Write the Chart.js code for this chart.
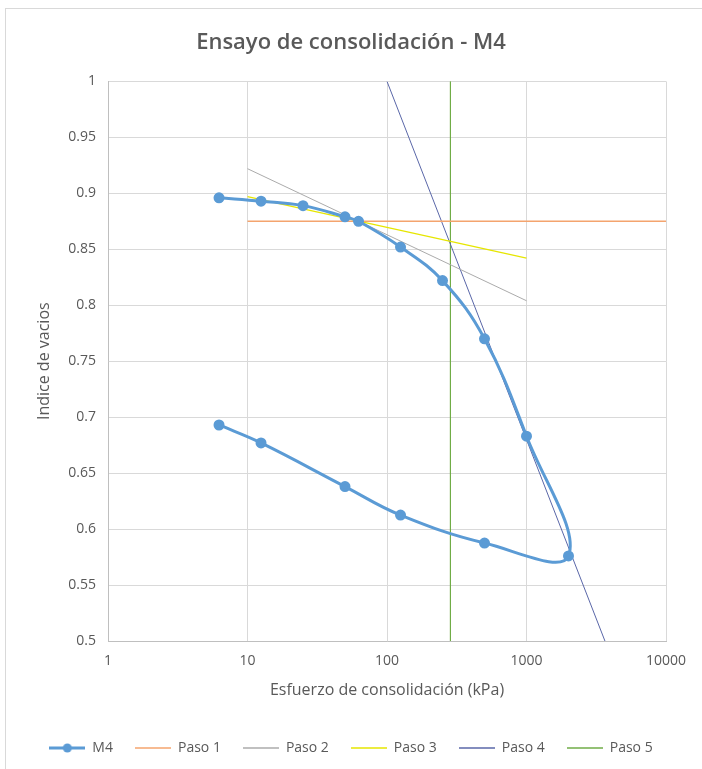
<!DOCTYPE html>
<html><head><meta charset="utf-8">
<script src="https://cdn.jsdelivr.net/npm/chart.js@4.4.1/dist/chart.umd.min.js"></script>
<style>html,body{margin:0;padding:0;background:#fff;}#wrap{width:702px;height:769px;position:relative;}</style>
</head><body><div id="wrap"><canvas id="c" width="702" height="769"></canvas></div>
<script>
const titleText = 'Ensayo de consolidación - M4';
const xTitle = 'Esfuerzo de consolidación (kPa)';
const yTitle = 'Indice de vacios';
const xTicks = [1, 10, 100, 1000, 10000];
const yTicks = [0.5, 0.55, 0.6, 0.65, 0.7, 0.75, 0.8, 0.85, 0.9, 0.95, 1];
const m4X = [6.25, 12.5, 25, 50, 62.5, 125, 250, 500, 1000, 2000, 500, 125, 50, 12.5, 6.25];
const m4Y = [0.896, 0.893, 0.889, 0.879, 0.875, 0.852, 0.822, 0.770, 0.683, 0.576, 0.5875, 0.6125, 0.638, 0.677, 0.693];
const paso1X = [10, 10000], paso1Y = [0.875, 0.875];
const paso2X = [10, 1000], paso2Y = [0.922, 0.804];
const paso3X = [10, 1000], paso3Y = [0.897, 0.842];
const paso4X = [100, 3650], paso4Y = [1.0, 0.5];
const paso5X = [285, 285], paso5Y = [1.0, 0.5];

const FONT = "'Open Sans', sans-serif";
const TXT = '#595959';
const pts = (xs, ys) => xs.map((x, i) => ({x, y: ys[i]}));

function legendImg(color, width, marker) {
  const cv = document.createElement('canvas');
  cv.width = 36; cv.height = 12;
  const g = cv.getContext('2d');
  g.strokeStyle = color; g.lineWidth = width;
  g.beginPath(); g.moveTo(0, 6); g.lineTo(36, 6); g.stroke();
  if (marker) { g.fillStyle = color; g.beginPath(); g.arc(18, 6, 4.5, 0, Math.PI * 2); g.fill(); }
  return cv;
}

const series = [
  {label: 'M4', xs: m4X, ys: m4Y, color: '#5B9BD5', w: 3, marker: true},
  {label: 'Paso 1', xs: paso1X, ys: paso1Y, color: '#F4A46E', w: 1.6},
  {label: 'Paso 2', xs: paso2X, ys: paso2Y, color: '#ABABAB', w: 1},
  {label: 'Paso 3', xs: paso3X, ys: paso3Y, color: '#E6E600', w: 1.3},
  {label: 'Paso 4', xs: paso4X, ys: paso4Y, color: '#5A67A8', w: 1},
  {label: 'Paso 5', xs: paso5X, ys: paso5Y, color: '#70AD47', w: 1},
];
const legendImgs = series.map(s => legendImg(s.color, s.marker ? 3 : 1.5, s.marker));

const datasets = series.map(s => ({
  label: s.label,
  data: pts(s.xs, s.ys),
  showLine: true,
  borderColor: s.color,
  backgroundColor: s.color,
  borderWidth: s.w,
  pointRadius: s.marker ? 4 : 0,
  pointHoverRadius: 0,
  pointStyle: 'circle',
  tension: s.marker ? 0.4 : 0,
  order: s.marker ? 0 : 1,
}));

const frame = {
  id: 'frame',
  beforeDraw(chart) {
    const c = chart.ctx;
    c.save(); c.fillStyle = '#fff'; c.fillRect(0, 0, chart.width, chart.height);
    c.strokeStyle = '#d9d9d9'; c.lineWidth = 1; c.strokeRect(5.5, 8.5, 720, 800); c.restore();
  }
};

new Chart(document.getElementById('c'), {
  type: 'scatter',
  data: {datasets},
  plugins: [frame],
  options: {
    responsive: false, animation: false,
    layout: {padding: {left: 0, right: 0, top: 0, bottom: 4}},
    plugins: {
      title: {display: true, text: titleText, color: TXT, font: {family: FONT, size: 22, weight: '600'}, padding: {top: 30, bottom: 25}},
      legend: {position: 'bottom', labels: {usePointStyle: true, pointStyleWidth: 36, color: TXT, font: {family: FONT, size: 14}, padding: 22,
        generateLabels: chart => Chart.defaults.plugins.legend.labels.generateLabels(chart).map((it, i) => Object.assign(it, {pointStyle: legendImgs[i]}))}},
      tooltip: {enabled: false}
    },
    scales: {
      x: {
        type: 'logarithmic', min: 1, max: 10000,
        afterBuildTicks: s => { s.ticks = xTicks.map(v => ({value: v})); },
        afterFit: s => { s.height = 78; },
        ticks: {color: TXT, font: {family: FONT, size: 14}, padding: 12, callback: v => String(v), maxRotation: 0, autoSkip: false},
        grid: {color: '#d9d9d9', drawTicks: false},
        border: {color: '#bfbfbf'},
        title: {display: true, text: xTitle, color: TXT, font: {family: FONT, size: 16}, padding: {top: 0, bottom: 19}}
      },
      y: {
        min: 0.5, max: 1,
        afterBuildTicks: s => { s.ticks = yTicks.map(v => ({value: v})); },
        afterFit: s => { s.width = 108; },
        ticks: {color: TXT, font: {family: FONT, size: 14}, padding: 12, callback: v => String(parseFloat(Number(v).toFixed(2)))},
        grid: {color: '#d9d9d9', drawTicks: false},
        border: {color: '#bfbfbf'},
        title: {display: true, text: yTitle, color: TXT, font: {family: FONT, size: 16}, padding: {top: 35, bottom: 0}}
      },
      y2: {
        position: 'right', min: 0.5, max: 1,
        afterFit: s => { s.width = 36; },
        ticks: {display: false},
        grid: {display: false, drawTicks: false},
        border: {display: false}
      }
    }
  }
});
</script></body></html>
